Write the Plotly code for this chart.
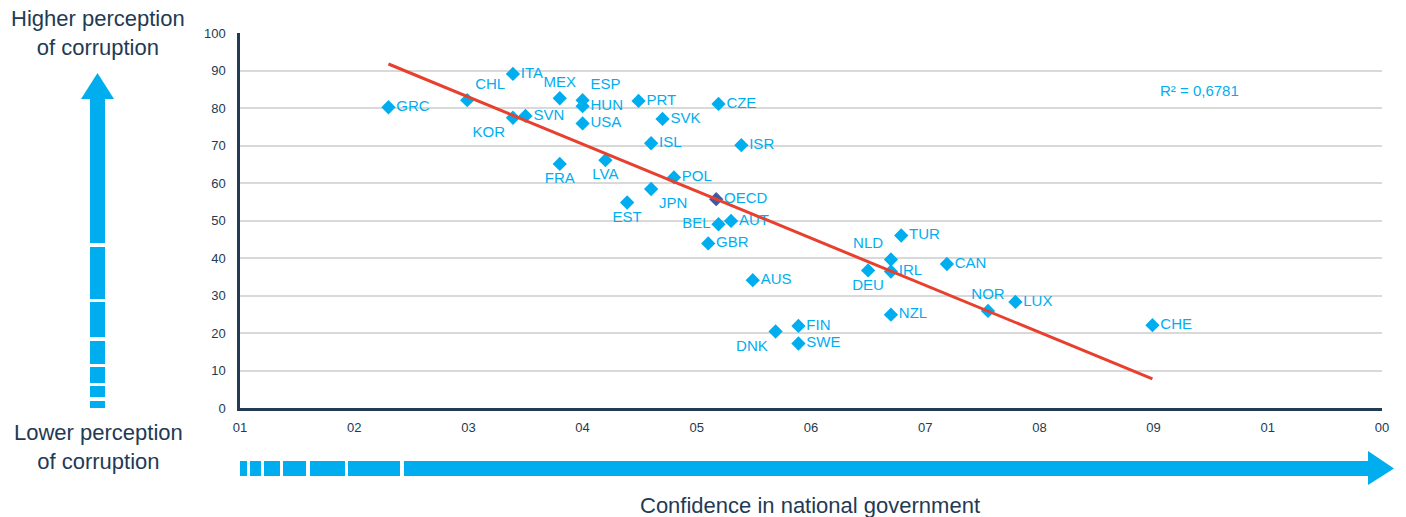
import numpy as np
import plotly.graph_objects as go

countries = ["GRC","CHL","ITA","KOR","SVN","MEX","FRA","ESP","HUN","USA","LVA","PRT","SVK","ISL",
             "EST","JPN","POL","CZE","ISR","BEL","AUT","GBR","AUS","DNK","FIN","SWE","TUR","NLD",
             "DEU","IRL","CAN","NZL","NOR","LUX","CHE"]
confidence = [13.0,19.9,23.9,23.9,25.0,28.0,28.0,30.0,30.0,30.0,32.0,34.9,37.0,36.0,
              33.9,36.0,38.0,41.9,43.9,41.9,43.0,41.0,44.9,46.9,48.9,48.9,57.9,57.0,
              55.0,57.0,61.9,57.0,65.5,67.9,79.9]
corruption = [80.2,82.1,89.1,77.4,77.9,82.6,65.1,82.1,80.5,75.9,66.1,81.9,77.1,70.6,
              54.8,58.4,61.5,81.1,70.1,49.0,49.9,43.9,34.1,20.4,21.9,17.2,46.0,39.6,
              36.7,36.4,38.4,24.9,25.9,28.3,22.1]
label_pos = ["middle right","top right","middle right","bottom left","middle right","top center",
             "bottom center","top right","middle right","middle right","bottom center","middle right",
             "middle right","middle right","bottom center","bottom right","middle right","middle right",
             "middle right","middle left","middle right","middle right","middle right","bottom left",
             "middle right","middle right","middle right","top left","bottom center","middle right",
             "middle right","middle right","top center","middle right","middle right"]
oecd_name = ["OECD"]
oecd_x = [41.7]
oecd_y = [55.7]

x_tickvals = [0,10,20,30,40,50,60,70,80,90,100]
x_ticktext = ["01","02","03","04","05","06","07","08","09","01","00"]
y_tickvals = [0,10,20,30,40,50,60,70,80,90,100]
r2_text = "R² = 0,6781"

BLUE = "#00aeef"
NAVY = "#233a54"
RED = "#e8402e"
FONT = "Liberation Sans, Arial, sans-serif"

W, H = 1406, 517
L, R, T, B = 240, 24, 33, 109
PW, PH = W - L - R, H - T - B

def px(x):
    return (x - L) / PW

def py(y):
    return (H - B - y) / PH

fig = go.Figure()

# countries (markers + labels)
fig.add_trace(go.Scatter(x=confidence, y=corruption, mode="markers+text", text=countries,
                         textposition=label_pos, cliponaxis=False,
                         marker=dict(symbol="diamond", size=11, color=BLUE),
                         textfont=dict(family=FONT, size=15, color=BLUE), showlegend=False))
fig.add_trace(go.Scatter(x=oecd_x, y=oecd_y, mode="markers+text", text=oecd_name,
                         textposition="middle right",
                         marker=dict(symbol="diamond", size=11, color="#3b5aa8"),
                         textfont=dict(family=FONT, size=15, color=BLUE), showlegend=False))

# trend line (OLS over countries)
cx = np.array(confidence); cy = np.array(corruption)
slope, intercept = np.polyfit(cx, cy, 1)
lx = np.array([cx.min(), cx.max()])
fig.add_trace(go.Scatter(x=lx, y=slope * lx + intercept, mode="lines",
                         line=dict(color=RED, width=3), hoverinfo="skip", showlegend=False))

shapes = []
# vertical arrow (left)
vsegs = [(98, 243), (247, 299), (302, 337), (341, 364), (367, 383), (386, 397), (401, 408)]
for y0, y1 in vsegs:
    shapes.append(dict(type="rect", xref="paper", yref="paper", x0=px(90), x1=px(105),
                       y0=py(y1), y1=py(y0), fillcolor=BLUE, line=dict(width=0)))
shapes.append(dict(type="path", xref="paper", yref="paper",
                   path=f"M {px(81)} {py(99)} L {px(97.5)} {py(73)} L {px(114)} {py(99)} Z",
                   fillcolor=BLUE, line=dict(width=0)))
# horizontal arrow (bottom)
hsegs = [(240, 247), (250, 261), (264, 280), (283, 306), (310, 345), (348, 400), (404, 1369)]
for x0, x1 in hsegs:
    shapes.append(dict(type="rect", xref="paper", yref="paper", x0=px(x0), x1=px(x1),
                       y0=py(476), y1=py(461), fillcolor=BLUE, line=dict(width=0)))
shapes.append(dict(type="path", xref="paper", yref="paper",
                   path=f"M {px(1368)} {py(451)} L {px(1394)} {py(468.5)} L {px(1368)} {py(485)} Z",
                   fillcolor=BLUE, line=dict(width=0)))

annotations = [
    dict(text="Higher perception<br>of corruption", xref="paper", yref="paper", x=px(98), y=py(4),
         xanchor="center", yanchor="top", showarrow=False, align="center",
         font=dict(family=FONT, size=22, color=NAVY)),
    dict(text="Lower perception<br>of corruption", xref="paper", yref="paper", x=px(98), y=py(418),
         xanchor="center", yanchor="top", showarrow=False, align="center",
         font=dict(family=FONT, size=22, color=NAVY)),
    dict(text="Confidence in national government", xref="paper", yref="paper", x=px(810), y=py(505),
         xanchor="center", yanchor="middle", showarrow=False,
         font=dict(family=FONT, size=22, color=NAVY)),
    dict(text=r2_text, xref="paper", yref="paper", x=px(1158), y=py(91),
         xanchor="left", yanchor="middle", showarrow=False,
         font=dict(family=FONT, size=15, color=BLUE)),
]

fig.update_layout(
    width=W, height=H, margin=dict(l=L, r=R, t=T, b=B),
    paper_bgcolor="white", plot_bgcolor="white",
    shapes=shapes, annotations=annotations, showlegend=False,
    xaxis=dict(range=[0, 100], tickvals=x_tickvals, ticktext=x_ticktext, showgrid=False,
               zeroline=False, showline=True, linecolor=NAVY, linewidth=2.5, ticks="",
               ticklabelstandoff=6, tickfont=dict(family=FONT, size=13, color=NAVY)),
    yaxis=dict(range=[0, 100], tickvals=y_tickvals, showgrid=True, gridcolor="#d9d9d9",
               gridwidth=1.5, zeroline=False, showline=True, linecolor=NAVY, linewidth=2.5,
               ticks="", ticklabelstandoff=9, tickfont=dict(family=FONT, size=13, color=NAVY)),
)

fig.write_html("out.html", config={"displayModeBar": False},
               post_script="document.body.style.margin='0';document.body.style.overflow='hidden';")
